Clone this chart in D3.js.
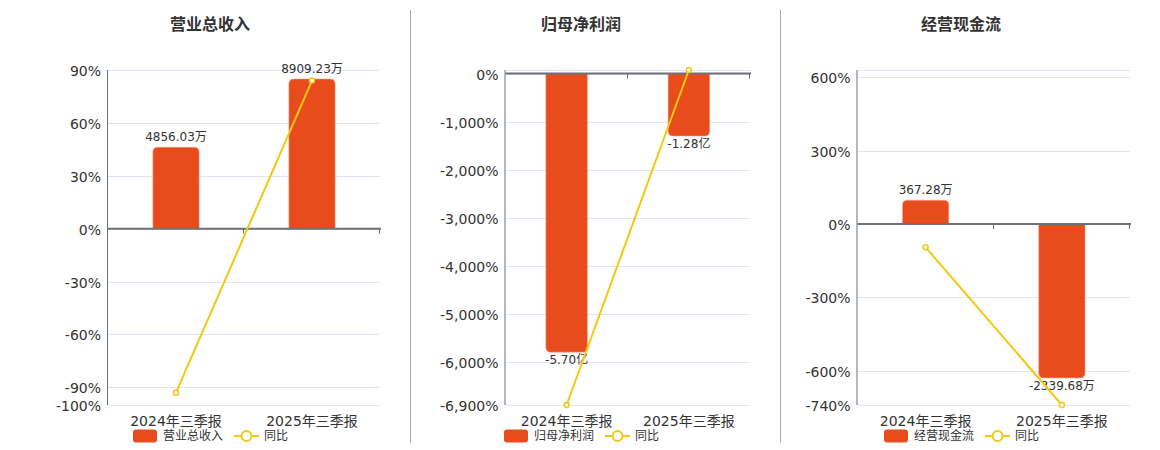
<!DOCTYPE html>
<html>
<head>
<meta charset="utf-8">
<script src="https://cdn.jsdelivr.net/npm/d3@7"></script>
<style>
  body { margin: 0; background: #fff; }
  svg { display: block; font-family: "DejaVu Sans", "Noto Sans CJK SC", sans-serif; }
</style>
</head>
<body>
<svg id="mainSvg"></svg>
<script>
var WIDTH = 1160;
var HEIGHT = 450;
var BAR_COLOR = "#e84c1d";
var LINE_COLOR = "#f2c811";
var AXIS_COLOR = "#6e7079";
var GRID_COLOR = "#e0e6f1";
var TEXT_COLOR = "#333";

// data
var categories = ["2024年三季报", "2025年三季报"];
var titles = ["营业总收入", "归母净利润", "经营现金流"];
var units = ["万", "亿", "万"];

var revenue = [4856.03, 8909.23];        // 万
var netProfit = [-5.70, -1.28];          // 亿
var cashFlow = [367.28, -2339.68];       // 万

var revenueYoy = [-93, 84];              // %
var netProfitYoy = [-6900, 75];
var cashFlowYoy = [-95, -740];

var revenueTicks = [90, 60, 30, 0, -30, -60, -90, -100];
var netProfitTicks = [0, -1000, -2000, -3000, -4000, -5000, -6000, -6900];
var cashFlowTicks = [600, 300, 0, -300, -600, -740];

// percent axis extents and the hidden axis the bars sit on
var revenueDomain = [-100, 90];
var netProfitDomain = [-6900, 75];
var cashFlowDomain = [-740, 630];
var revenueBarDomain = [-10450, 9440];
var netProfitBarDomain = [-6.78, 0.07];
var cashFlowBarDomain = [-2752, 2350];

var PANELS = [
  { bars: revenue, yoy: revenueYoy, ticks: revenueTicks, domain: revenueDomain, barDomain: revenueBarDomain,
    left: 108, right: 380, center: 210 },
  { bars: netProfit, yoy: netProfitYoy, ticks: netProfitTicks, domain: netProfitDomain, barDomain: netProfitBarDomain,
    left: 505.5, right: 750, center: 581 },
  { bars: cashFlow, yoy: cashFlowYoy, ticks: cashFlowTicks, domain: cashFlowDomain, barDomain: cashFlowBarDomain,
    left: 857.5, right: 1130, center: 961 }
];
var SEPARATORS = [410.5, 780.5];
var TOP = 70;
var BOTTOM = 405;

var fmt = d3.formatLocale({ decimal: ".", thousands: ",", grouping: [3], currency: ["", ""], minus: "-" });
var pctFormat = fmt.format(",");

// bar shape with the far end rounded, works for both signs
function barPath(x, w, y0, y1, r) {
  var h = Math.abs(y1 - y0);
  r = Math.min(r, h, w / 2);
  var dir = y1 < y0 ? 1 : -1; // 1: grows upward
  var tip = y1;
  var p = d3.path();
  p.moveTo(x, y0);
  p.lineTo(x, tip + dir * r);
  p.quadraticCurveTo(x, tip, x + r, tip);
  p.lineTo(x + w - r, tip);
  p.quadraticCurveTo(x + w, tip, x + w, tip + dir * r);
  p.lineTo(x + w, y0);
  p.closePath();
  return p.toString();
}

function drawPanel(svg, cfg, i) {
  var g = svg.append("g");
  var x = d3.scaleBand().domain(categories).range([cfg.left, cfg.right]);
  var y = d3.scaleLinear().domain(cfg.domain).range([BOTTOM, TOP]);
  var yBar = d3.scaleLinear().domain(cfg.barDomain).range([BOTTOM, TOP]);
  var zero = y(0);

  // title
  g.append("text")
    .attr("x", cfg.center).attr("y", 30)
    .attr("text-anchor", "middle")
    .attr("font-size", 16).attr("font-weight", "bold")
    .attr("fill", TEXT_COLOR)
    .text(titles[i]);

  // grid lines, top edge always gets one
  var gridVals = cfg.ticks.slice();
  if (gridVals.indexOf(cfg.domain[1]) < 0) gridVals.push(cfg.domain[1]);
  g.selectAll(".grid").data(gridVals).enter()
    .append("line")
    .attr("x1", cfg.left).attr("x2", cfg.right)
    .attr("y1", function (d) { return Math.round(y(d)) + 0.5; })
    .attr("y2", function (d) { return Math.round(y(d)) + 0.5; })
    .attr("stroke", GRID_COLOR);

  // y labels
  g.selectAll(".ylab").data(cfg.ticks).enter()
    .append("text")
    .attr("x", cfg.left - 7)
    .attr("y", function (d) { return y(d) + 1; })
    .attr("text-anchor", "end")
    .attr("dominant-baseline", "central")
    .attr("font-size", 14)
    .attr("fill", TEXT_COLOR)
    .text(function (d) { return pctFormat(d) + "%"; });

  // y axis line
  g.append("line")
    .attr("x1", cfg.left - 0.5).attr("x2", cfg.left - 0.5)
    .attr("y1", TOP).attr("y2", BOTTOM)
    .attr("stroke", AXIS_COLOR);

  // bars
  var bw = x.bandwidth() * 0.34;
  var bars = cfg.bars.map(function (v, j) { return { v: v, c: categories[j] }; });
  g.selectAll(".bar").data(bars).enter()
    .append("path")
    .attr("d", function (d) {
      var cx = x(d.c) + x.bandwidth() / 2;
      return barPath(cx - bw / 2, bw, zero, yBar(d.v), 5);
    })
    .attr("fill", BAR_COLOR)
    .attr("stroke", "#f3a48b")
    .attr("stroke-width", 0.6);

  // bar value labels
  g.selectAll(".blab").data(bars).enter()
    .append("text")
    .attr("x", function (d) { return x(d.c) + x.bandwidth() / 2; })
    .attr("y", function (d) { return d.v >= 0 ? yBar(d.v) - 6 : yBar(d.v) + 12; })
    .attr("text-anchor", "middle")
    .attr("font-size", 12)
    .attr("fill", TEXT_COLOR)
    .text(function (d) { return d3.format(".2f")(d.v).replace("−", "-") + units[i]; });

  // zero axis line with ticks
  g.append("line")
    .attr("x1", cfg.left).attr("x2", cfg.right + 1)
    .attr("y1", zero).attr("y2", zero)
    .attr("stroke", AXIS_COLOR).attr("stroke-width", 2);
  var tickXs = categories.map(function (c) { return x(c) + x.bandwidth(); });
  g.selectAll(".xtick").data(tickXs).enter()
    .append("line")
    .attr("x1", function (d) { return Math.round(d) - 0.5; })
    .attr("x2", function (d) { return Math.round(d) - 0.5; })
    .attr("y1", zero).attr("y2", zero + 5)
    .attr("stroke", AXIS_COLOR);

  // category labels
  g.selectAll(".xlab").data(categories).enter()
    .append("text")
    .attr("x", function (d) { return x(d) + x.bandwidth() / 2; })
    .attr("y", 426)
    .attr("text-anchor", "middle")
    .attr("font-size", 14)
    .attr("fill", TEXT_COLOR)
    .text(function (d) { return d; });

  // yoy line
  var pts = cfg.yoy.map(function (v, j) { return { v: v, c: categories[j] }; });
  var line = d3.line()
    .x(function (d) { return x(d.c) + x.bandwidth() / 2; })
    .y(function (d) { return y(d.v); });
  g.append("path")
    .attr("d", line(pts))
    .attr("fill", "none")
    .attr("stroke", LINE_COLOR)
    .attr("stroke-width", 2);
  g.selectAll(".pt").data(pts).enter()
    .append("circle")
    .attr("cx", function (d) { return x(d.c) + x.bandwidth() / 2; })
    .attr("cy", function (d) { return y(d.v); })
    .attr("r", 2.5)
    .attr("fill", "#fff")
    .attr("stroke", LINE_COLOR)
    .attr("stroke-width", 1.5);

  // legend
  var lg = g.append("g").attr("transform", "translate(" + (cfg.center - 77) + ",436)");
  lg.append("rect")
    .attr("x", 0).attr("y", -6.5).attr("width", 24).attr("height", 13).attr("rx", 3)
    .attr("fill", BAR_COLOR);
  lg.append("text")
    .attr("x", 30).attr("y", 0).attr("dominant-baseline", "central")
    .attr("font-size", 12).attr("fill", TEXT_COLOR)
    .text(titles[i]);
  lg.append("line")
    .attr("x1", 101).attr("x2", 126).attr("y1", 0).attr("y2", 0)
    .attr("stroke", LINE_COLOR).attr("stroke-width", 2);
  lg.append("circle")
    .attr("cx", 113.5).attr("cy", 0).attr("r", 5)
    .attr("fill", "#fff").attr("stroke", LINE_COLOR).attr("stroke-width", 2);
  lg.append("text")
    .attr("x", 131).attr("y", 0).attr("dominant-baseline", "central")
    .attr("font-size", 12).attr("fill", TEXT_COLOR)
    .text("同比");
}

function render() {
  var svg = d3.select("#mainSvg")
    .attr("width", WIDTH)
    .attr("height", HEIGHT);

  svg.selectAll(".sep").data(SEPARATORS).enter()
    .append("line")
    .attr("x1", function (d) { return d; })
    .attr("x2", function (d) { return d; })
    .attr("y1", 10).attr("y2", 443)
    .attr("stroke", "#aaa");

  PANELS.forEach(function (cfg, i) { drawPanel(svg, cfg, i); });
}

render();
</script>
</body>
</html>
